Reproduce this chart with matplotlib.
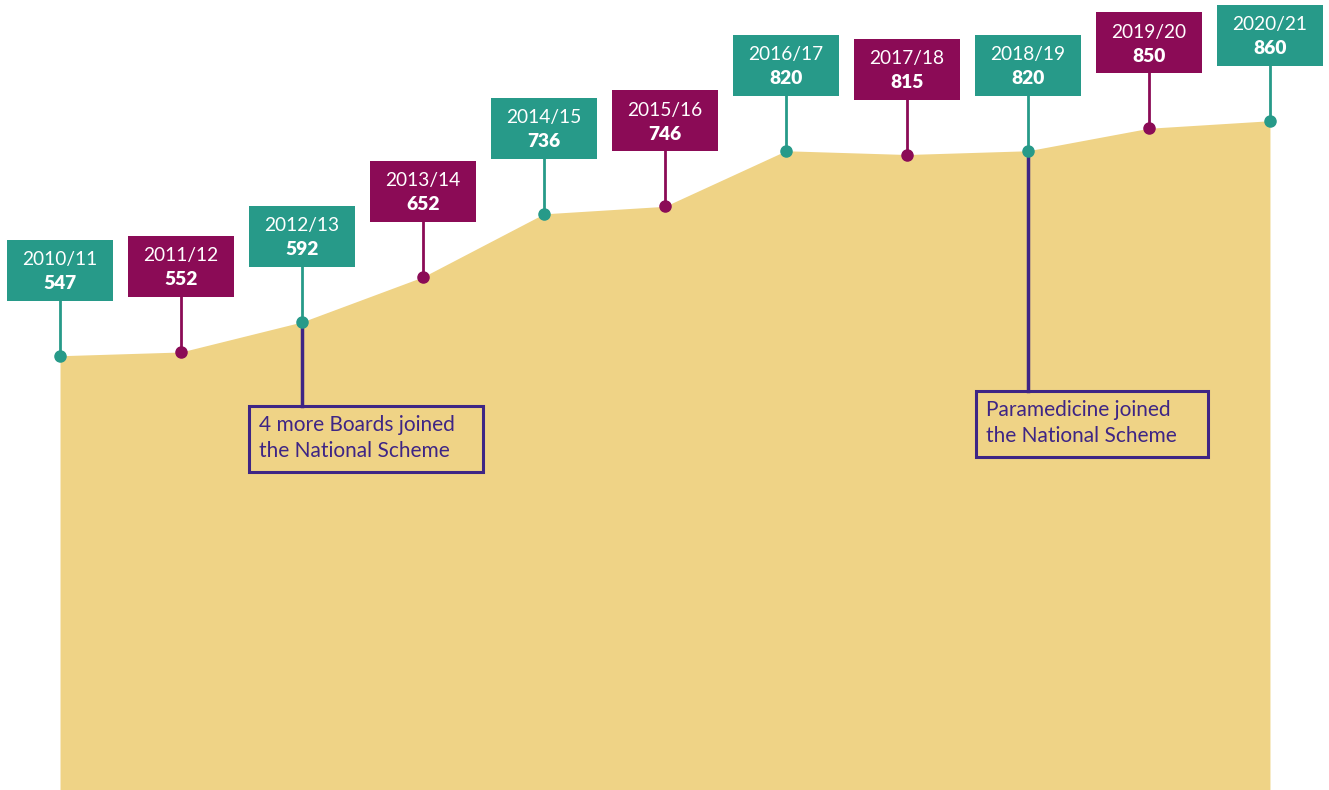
import numpy as np
import matplotlib.pyplot as plt
from matplotlib.patches import Rectangle
from matplotlib.lines import Line2D
from matplotlib.transforms import Affine2D

plt.rcParams['font.family'] = ['Lato', 'DejaVu Sans']

years = ['2010/11', '2011/12', '2012/13', '2013/14', '2014/15', '2015/16',
         '2016/17', '2017/18', '2018/19', '2019/20', '2020/21']
values = [547, 552, 592, 652, 736, 746, 820, 815, 820, 850, 860]
notes = {2: '4 more Boards joined\nthe National Scheme',
         8: 'Paramedicine joined\nthe National Scheme'}
# pixel offsets of the note boxes (left, top below point)
note_offsets = {2: (-53, -84, 234, 66), 8: (-52, -240, 232, 66)}

teal = '#279a89'
plum = '#8b0b56'
sand = '#efd386'
purple = '#3e2585'

fig = plt.figure(figsize=(13.29, 7.9), dpi=100)
ax = fig.add_axes([0, 0, 1, 1])
ax.set_xlim(-0.496, 10.488)
ax.set_ylim(-31.4, 1020.8)
ax.axis('off')

x = np.arange(len(years))
ax.fill_between(x, values, -31.4, color=sand, lw=0, zorder=1)


def at_point(i, v):
    # transform in display pixels, origin at the data point
    px, py = ax.transData.transform((i, v))
    return Affine2D().translate(px, py)


for i, (yr, v) in enumerate(zip(years, values)):
    col = teal if i % 2 == 0 else plum
    t = at_point(i, v)
    ax.add_line(Line2D([0, 0], [0, 56], color=col, lw=2, transform=t,
                       zorder=3, clip_on=False))
    ax.add_patch(Rectangle((-53, 55), 106, 61, facecolor=col, lw=0,
                           transform=t, zorder=4, clip_on=False))
    ax.text(0, 96, yr, color='white', fontsize=13.8, ha='center',
            va='center', transform=t, zorder=5)
    ax.text(0, 72, str(v), color='white', fontsize=13.8, fontweight='heavy',
            ha='center', va='center', transform=t, zorder=5)
    ax.plot(i, v, 'o', color=col, ms=8, zorder=6, clip_on=False)

    if i in notes:
        left, top, w, h = note_offsets[i]
        ax.add_line(Line2D([0, 0], [0, top], color=purple, lw=2.5,
                           transform=t, zorder=2))
        ax.add_patch(Rectangle((left, top - h), w, h, facecolor='none',
                               edgecolor=purple, lw=2.2, transform=t,
                               zorder=2))
        ax.text(left + 10, top - h / 2 + 1, notes[i], color=purple,
                fontsize=15, ha='left', va='center', linespacing=1.4,
                transform=t, zorder=5)

fig.savefig('out.png', dpi=100)
